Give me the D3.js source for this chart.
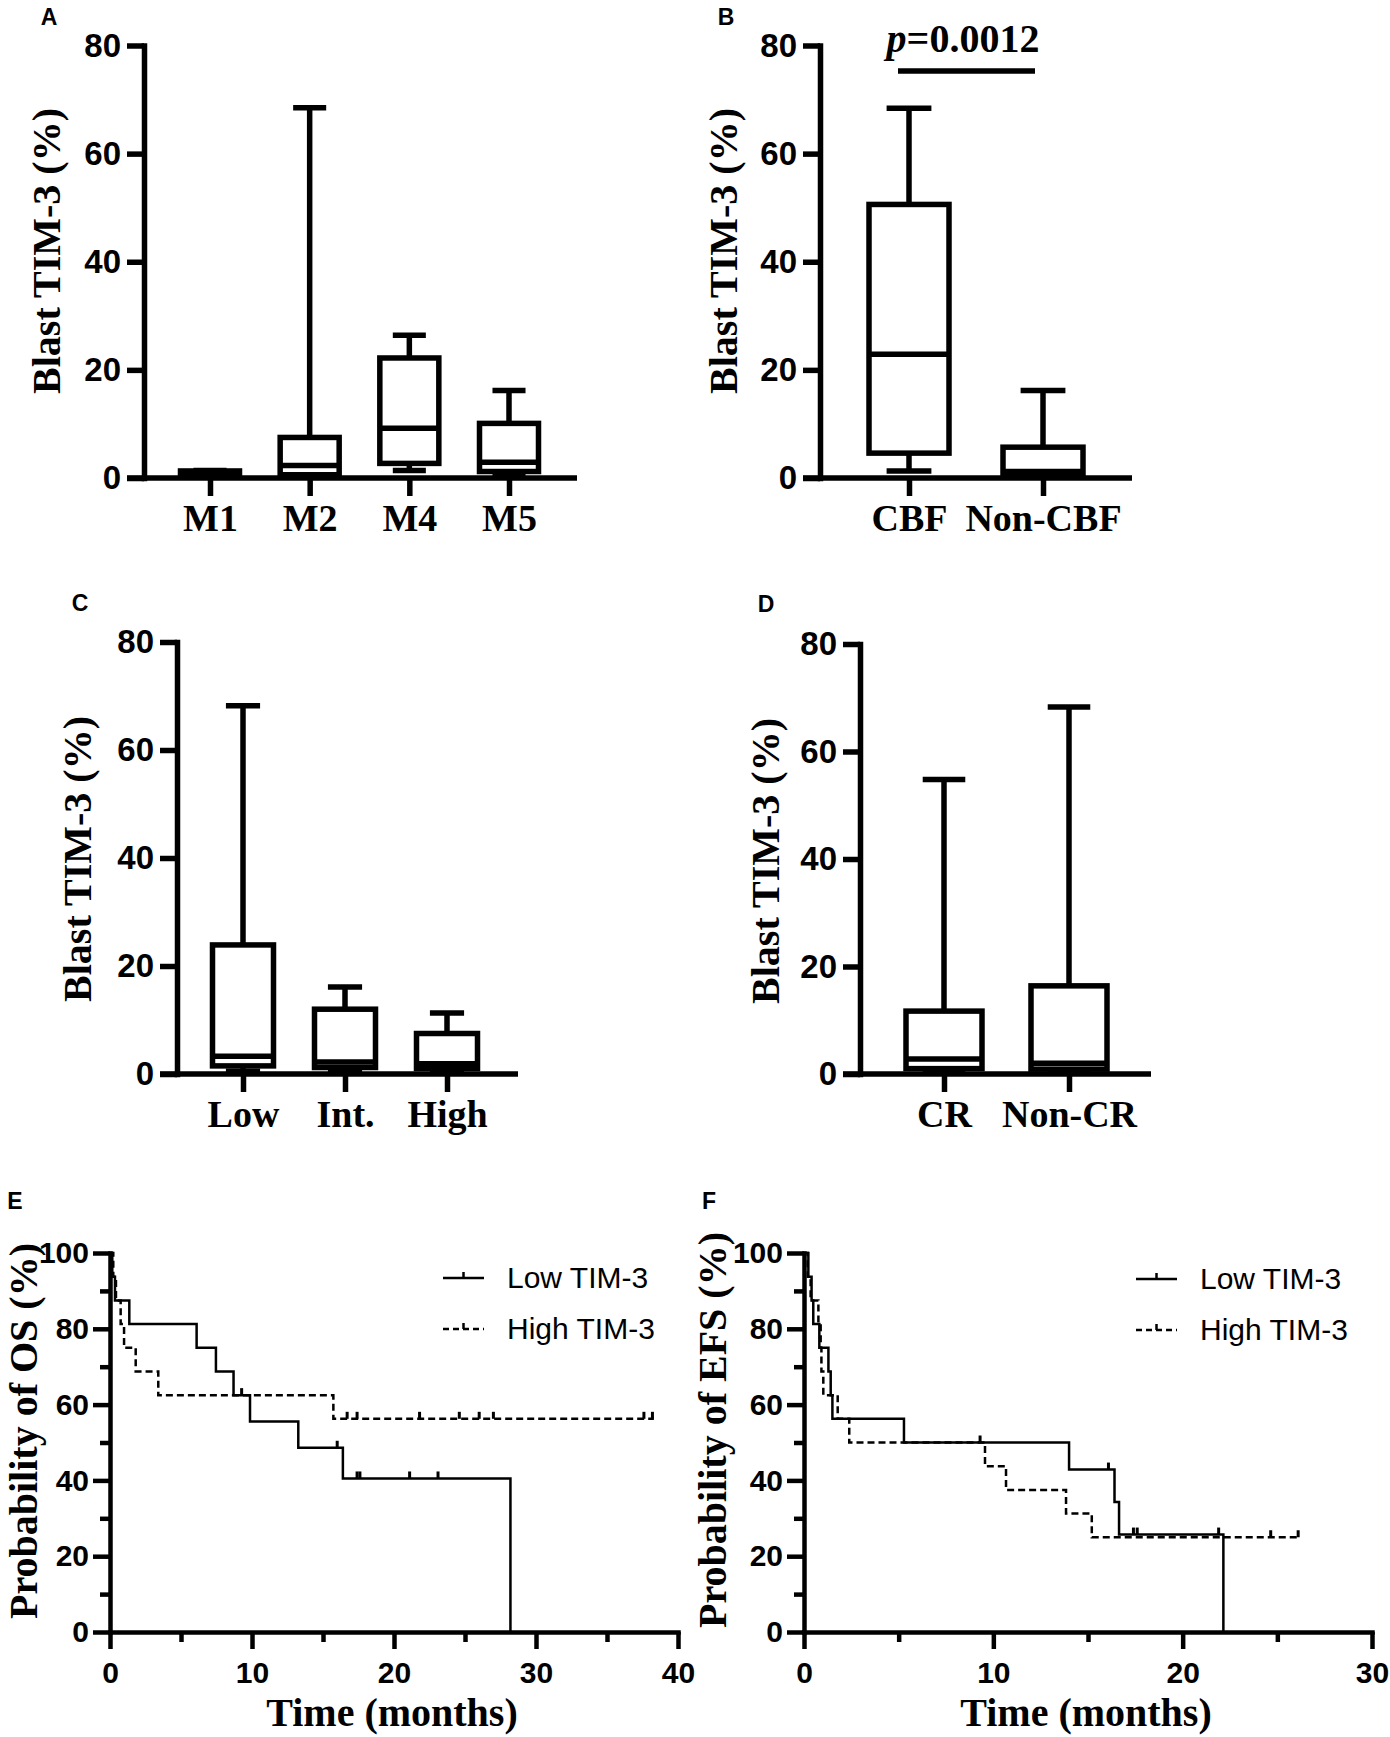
<!DOCTYPE html>
<html>
<head>
<meta charset="utf-8">
<script src="https://cdn.jsdelivr.net/npm/d3@7"></script>
<style>
  body { margin: 0; background: #fff; }
  svg { display: block; }
</style>
</head>
<body>
<svg id="fig" width="1390" height="1737"></svg>
<script>
'use strict';

// ---- data ----
const boxTicks = [0, 20, 40, 60, 80];

// A: FAB subtype
const fabCats = ['M1', 'M2', 'M4', 'M5'];
const fabMin = [0.3, 0.2, 1.4, 0.3];
const fabQ1 = [0.4, 0.6, 2.7, 1.2];
const fabMed = [0.8, 2.3, 9.2, 2.9];
const fabQ3 = [1.3, 7.5, 22.2, 10.1];
const fabMax = [1.4, 68.5, 26.4, 16.2];

// B: CBF vs non-CBF
const cbfCats = ['CBF', 'Non-CBF'];
const cbfMin = [1.3, 0.2];
const cbfQ1 = [4.6, 0.6];
const cbfMed = [22.9, 1.2];
const cbfQ3 = [50.6, 5.7];
const cbfMax = [68.4, 16.2];
const cbfPText = '=0.0012';

// C: risk group
const riskCats = ['Low', 'Int.', 'High'];
const riskMin = [0.5, 0.7, 0.5];
const riskQ1 = [1.5, 1.2, 1.0];
const riskMed = [3.3, 2.2, 1.9];
const riskQ3 = [23.9, 12.0, 7.5];
const riskMax = [68.2, 16.1, 11.3];

// D: response
const crCats = ['CR', 'Non-CR'];
const crMin = [0.3, 0.3];
const crQ1 = [1.0, 0.9];
const crMed = [2.8, 2.0];
const crQ3 = [11.7, 16.4];
const crMax = [54.8, 68.3];

// E: overall survival (months, %)
const osLowT = [0, 0.16, 0.35, 1.36, 6.1, 7.46, 8.7, 9.86, 13.26, 16.4, 28.2];
const osLowS = [100, 93.75, 87.5, 81.25, 75, 68.75, 62.5, 55.56, 48.61, 40.51, 0];
const osLowCens = [9.27, 16.0, 17.4, 17.6, 21.1, 23.1];
const osLowEnd = 28.2;
const osHighT = [0, 0.23, 0.42, 0.75, 0.99, 1.81, 3.4, 15.73];
const osHighS = [100, 93.75, 87.5, 81.25, 75, 68.75, 62.5, 56.25];
const osHighCens = [16.7, 17.4, 21.8, 24.6, 26.0, 27.0, 37.6, 38.2];
const osHighEnd = 38.3;

// F: event-free survival (months, %)
const efsLowT = [0, 0.23, 0.40, 0.49, 0.81, 1.29, 1.41, 1.50, 5.28, 14.0, 16.4, 16.64, 22.15];
const efsLowS = [100, 93.75, 87.5, 81.25, 75, 68.75, 62.5, 56.25, 50, 42.86, 34.29, 25.71, 0];
const efsLowCens = [9.3, 16.08, 17.4, 17.6, 21.9];
const efsLowEnd = 22.15;
const efsHighT = [0, 0.2, 0.35, 0.76, 0.88, 0.92, 1.02, 1.78, 2.39, 9.56, 10.67, 13.84, 15.2];
const efsHighS = [100, 93.75, 87.5, 81.25, 75, 68.75, 62.5, 56.25, 50, 43.75, 37.5, 31.25, 25];
const efsHighCens = [24.65, 26.1];
const efsHighEnd = 26.2;

const survTicks = [0, 20, 40, 60, 80, 100];
const survMinor = [10, 30, 50, 70, 90];
const legendNames = ['Low TIM-3', 'High TIM-3'];

// ---- drawing ----
const SANS = '"Liberation Sans", Arial, sans-serif';
const SERIF = '"Liberation Serif", "Times New Roman", serif';
const svg = d3.select('#fig');

function panelLetter(txt, x, y) {
  svg.append('text')
    .attr('x', x).attr('y', y)
    .attr('text-anchor', 'middle')
    .style('font-family', SANS).style('font-weight', 'bold').style('font-size', '23px')
    .text(txt);
}

function rotLabel(txt, x, y, size) {
  svg.append('text')
    .attr('transform', 'translate(' + x + ',' + y + ') rotate(-90)')
    .attr('text-anchor', 'middle')
    .style('font-family', SERIF).style('font-weight', 'bold').style('font-size', size + 'px')
    .text(txt);
}

function styleTicks(g, lw, size) {
  g.selectAll('.tick line').attr('stroke-width', lw);
  g.selectAll('.tick text')
    .style('font-family', SANS).style('font-weight', 'bold').style('font-size', size + 'px');
}

function boxPanel(o, cats, mins, q1s, meds, q3s, maxs) {
  const lw = 5.5;
  const g = svg.append('g');
  const x = d3.scalePoint().domain(cats).range(o.xr);
  const y = d3.scaleLinear().domain([0, 80]).range([o.y0, o.y80]);

  const rows = cats.map((c, i) => ({ c, min: mins[i], q1: q1s[i], med: meds[i], q3: q3s[i], max: maxs[i] }));
  const half = o.boxW / 2, cap = o.boxW * 0.28;

  const b = g.selectAll('.box')
    .data(rows)
    .enter()
    .append('g')
    .attr('class', 'box')
    .attr('transform', (d) => 'translate(' + x(d.c) + ',0)')
    .attr('stroke', '#000')
    .attr('stroke-width', lw);

  b.append('line').attr('x1', 0).attr('x2', 0).attr('y1', (d) => y(d.q3)).attr('y2', (d) => y(d.max));
  b.append('line').attr('x1', 0).attr('x2', 0).attr('y1', (d) => y(d.q1)).attr('y2', (d) => y(d.min));
  b.append('line').attr('x1', -cap).attr('x2', cap).attr('y1', (d) => y(d.max)).attr('y2', (d) => y(d.max));
  b.append('line').attr('x1', -cap).attr('x2', cap).attr('y1', (d) => y(d.min)).attr('y2', (d) => y(d.min));
  b.append('rect')
    .attr('x', -half).attr('width', o.boxW)
    .attr('y', (d) => y(d.q3))
    .attr('height', (d) => y(d.q1) - y(d.q3))
    .attr('fill', '#fff');
  b.append('line').attr('x1', -half).attr('x2', half).attr('y1', (d) => y(d.med)).attr('y2', (d) => y(d.med));

  // x axis line and category ticks
  g.append('line')
    .attr('x1', o.axisX - 17).attr('x2', o.xEnd)
    .attr('y1', o.y0).attr('y2', o.y0)
    .attr('stroke', '#000').attr('stroke-width', lw);

  const xa = g.append('g')
    .attr('transform', 'translate(0,' + o.y0 + ')')
    .call(d3.axisBottom(x).tickSize(18).tickSizeOuter(0));
  xa.select('.domain').remove();
  styleTicks(xa, lw, 38);
  xa.selectAll('.tick text')
    .attr('y', 53).attr('dy', 0)
    .style('font-family', SERIF).style('font-size', '38px');

  const ya = g.append('g')
    .attr('transform', 'translate(' + o.axisX + ',0)')
    .call(d3.axisLeft(y).tickValues(boxTicks).tickSize(17).tickPadding(6).tickSizeOuter(0));
  ya.select('.domain').attr('stroke-width', lw).attr('stroke-linecap', 'square');
  styleTicks(ya, lw, 33);

  rotLabel('Blast TIM-3 (%)', o.labX, o.labY, 40);
  panelLetter(o.letter, o.letX, o.letY);
  return { g, x, y };
}

function kmPanel(o, curves) {
  const lw = 4.5, cw = 2.5;
  const g = svg.append('g');
  const x = d3.scaleLinear().domain([0, o.xMax]).range([o.x0, o.x1]);
  const y = d3.scaleLinear().domain([0, 100]).range([o.y0, o.y100]);

  const line = d3.line()
    .x((d) => x(d[0]))
    .y((d) => y(d[1]))
    .curve(d3.curveStepAfter);

  curves.forEach((c) => {
    const pts = c.t.map((t, i) => [t, c.s[i]]);
    pts.push([c.end, c.s[c.s.length - 1]]);
    g.append('path')
      .datum(pts)
      .attr('d', line)
      .attr('fill', 'none')
      .attr('stroke', '#000')
      .attr('stroke-width', cw)
      .attr('stroke-dasharray', c.dash ? '7,4' : null);

    const survAt = (t) => c.s[d3.bisectRight(c.t, t) - 1];
    g.selectAll(null)
      .data(c.cens)
      .enter()
      .append('line')
      .attr('x1', (d) => x(d)).attr('x2', (d) => x(d))
      .attr('y1', (d) => y(survAt(d)))
      .attr('y2', (d) => y(survAt(d)) - 7)
      .attr('stroke', '#000')
      .attr('stroke-width', cw + 0.5);
  });

  // axes
  const majorX = d3.range(0, o.xMax + 1, 10);
  const minorX = d3.range(5, o.xMax, 10);

  const xm = g.append('g').attr('transform', 'translate(0,' + o.y0 + ')')
    .call(d3.axisBottom(x).tickValues(minorX).tickSize(10).tickFormat(''));
  xm.select('.domain').remove();
  styleTicks(xm, lw, 30);

  const xa = g.append('g').attr('transform', 'translate(0,' + o.y0 + ')')
    .call(d3.axisBottom(x).tickValues(majorX).tickSize(17).tickSizeOuter(0));
  xa.select('.domain').attr('stroke-width', lw).attr('stroke-linecap', 'square');
  styleTicks(xa, lw, 30);
  xa.selectAll('.tick text').attr('y', 51).attr('dy', 0);

  const ym = g.append('g').attr('transform', 'translate(' + o.x0 + ',0)')
    .call(d3.axisLeft(y).tickValues(survMinor).tickSize(10).tickFormat(''));
  ym.select('.domain').remove();
  styleTicks(ym, lw, 30);

  const ya = g.append('g').attr('transform', 'translate(' + o.x0 + ',0)')
    .call(d3.axisLeft(y).tickValues(survTicks).tickSize(17).tickPadding(4).tickSizeOuter(0));
  ya.select('.domain').attr('stroke-width', lw).attr('stroke-linecap', 'square');
  styleTicks(ya, lw, 30);

  // legend
  legendNames.forEach((name, i) => {
    const ly = o.legY + i * 51;
    const lg = g.append('g');
    lg.append('line')
      .attr('x1', o.legX).attr('x2', o.legX + 41)
      .attr('y1', ly).attr('y2', ly)
      .attr('stroke', '#000').attr('stroke-width', cw)
      .attr('stroke-dasharray', i ? '6,4' : null);
    lg.append('line')
      .attr('x1', o.legX + 20.5).attr('x2', o.legX + 20.5)
      .attr('y1', ly).attr('y2', ly - 6)
      .attr('stroke', '#000').attr('stroke-width', cw);
    lg.append('text')
      .attr('x', o.legX + 64).attr('y', ly + 10)
      .style('font-family', SANS).style('font-size', '30px')
      .text(name);
  });

  rotLabel(o.yTitle, o.labX, o.labY, 40);
  svg.append('text')
    .attr('x', (o.x0 + o.x1) / 2 + o.titleDx).attr('y', 1726)
    .attr('text-anchor', 'middle')
    .style('font-family', SERIF).style('font-weight', 'bold').style('font-size', '40px')
    .text('Time (months)');
  panelLetter(o.letter, o.letX, o.letY);
}

// A
boxPanel({ axisX: 144, y0: 478, y80: 45.5, xEnd: 577, xr: [210, 509], boxW: 59,
  labX: 60, labY: 251, letter: 'A', letX: 49, letY: 25 },
  fabCats, fabMin, fabQ1, fabMed, fabQ3, fabMax);

// B
const pb = boxPanel({ axisX: 820, y0: 478, y80: 45.5, xEnd: 1132, xr: [909, 1043], boxW: 80,
  labX: 737, labY: 251, letter: 'B', letX: 726, letY: 25 },
  cbfCats, cbfMin, cbfQ1, cbfMed, cbfQ3, cbfMax);
pb.g.append('line')
  .attr('x1', pb.x('CBF') - 11).attr('x2', pb.x('Non-CBF') - 8)
  .attr('y1', 71).attr('y2', 71)
  .attr('stroke', '#000').attr('stroke-width', 5.5);
const pt = pb.g.append('text')
  .attr('x', (pb.x('CBF') + pb.x('Non-CBF')) / 2 - 13).attr('y', 52)
  .attr('text-anchor', 'middle')
  .style('font-family', SERIF).style('font-weight', 'bold').style('font-size', '40px');
pt.append('tspan').style('font-style', 'italic').text('p');
pt.append('tspan').text(cbfPText);

// C
boxPanel({ axisX: 177, y0: 1074, y80: 642, xEnd: 518, xr: [243, 447], boxW: 61,
  labX: 91, labY: 859, letter: 'C', letX: 80, letY: 611 },
  riskCats, riskMin, riskQ1, riskMed, riskQ3, riskMax);

// D
boxPanel({ axisX: 860, y0: 1074, y80: 644, xEnd: 1151, xr: [944, 1069], boxW: 76,
  labX: 779, labY: 861, letter: 'D', letX: 766, letY: 612 },
  crCats, crMin, crQ1, crMed, crQ3, crMax);

// E
kmPanel({ x0: 110, x1: 678, xMax: 40, y0: 1632, y100: 1253,
  legX: 443, legY: 1278, yTitle: 'Probability of OS (%)', labX: 37, labY: 1431,
  titleDx: -2, letter: 'E', letX: 15, letY: 1209 },
  [{ t: osLowT, s: osLowS, cens: osLowCens, end: osLowEnd, dash: false },
   { t: osHighT, s: osHighS, cens: osHighCens, end: osHighEnd, dash: true }]);

// F
kmPanel({ x0: 804, x1: 1372, xMax: 30, y0: 1632, y100: 1253,
  legX: 1136, legY: 1279, yTitle: 'Probability of EFS (%)', labX: 726, labY: 1430,
  titleDx: -2, letter: 'F', letX: 709, letY: 1209 },
  [{ t: efsLowT, s: efsLowS, cens: efsLowCens, end: efsLowEnd, dash: false },
   { t: efsHighT, s: efsHighS, cens: efsHighCens, end: efsHighEnd, dash: true }]);
</script>
</body>
</html>
